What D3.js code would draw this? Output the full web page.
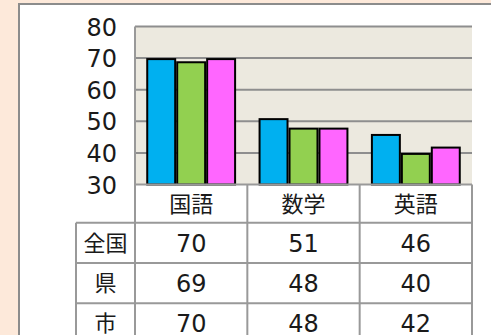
<!DOCTYPE html>
<html>
<head>
<meta charset="utf-8">
<script src="https://cdn.jsdelivr.net/npm/d3@7/dist/d3.min.js"></script>
<style>
  html, body { margin: 0; padding: 0; background: #fde9da; }
  svg { display: block; }
  .num { font-family: "DejaVu Sans", sans-serif; font-weight: 400; font-size: 24px; fill: #1a1a1a; }
  .jp { font-family: "Noto Sans CJK JP", sans-serif; font-weight: 400; font-size: 22px; fill: #1a1a1a; }
</style>
</head>
<body>
<script>
// Subjects and the three comparison groups
const subjects = ["国語", "数学", "英語"];
const groups = ["全国", "県", "市"];
const scoresNation = [70, 51, 46];
const scoresPref = [69, 48, 40];
const scoresCity = [70, 48, 42];
const yTicks = [30, 40, 50, 60, 70, 80];
const groupColors = ["#00b0f0", "#92d050", "#ff66ff"];

const series = [scoresNation, scoresPref, scoresCity];

const W = 491, H = 335;
const svg = d3.select("body").append("svg").attr("width", W).attr("height", H);

// White panel framing the chart
svg.append("rect").attr("x", 19).attr("y", 4).attr("width", W).attr("height", H)
  .attr("fill", "#fff").attr("stroke", "#8c8c8c").attr("stroke-width", 2);

const plotL = 135, plotR = 472, plotT = 26.5, plotB = 184.5;
const rowH = 40.2, headH = 38.3, labelColL = 76;

const y = d3.scaleLinear().domain([30, 80]).range([plotB, plotT]);
const xCol = d3.scaleBand().domain(subjects).range([plotL, plotR]).padding(0);
const x0 = d3.scaleBand().domain(subjects).range([plotL, plotR])
  .paddingInner(0.2).paddingOuter(0.1);
const x1 = d3.scaleBand().domain(groups).range([0, x0.bandwidth()]).padding(0);

// Plot background
svg.append("rect").attr("x", plotL).attr("y", plotT)
  .attr("width", plotR - plotL).attr("height", plotB - plotT).attr("fill", "#ece9df");

// Gridlines
const grid = svg.append("g");
grid.selectAll("line").data(yTicks.filter(t => t > 30)).join("line")
  .attr("x1", plotL).attr("x2", plotR)
  .attr("y1", d => y(d)).attr("y2", d => y(d))
  .attr("stroke", "#8e8e8e").attr("stroke-width", 2);

// Y axis labels
const yAxis = d3.axisLeft(y).tickValues(yTicks).tickSize(0).tickPadding(0);
const ya = svg.append("g").attr("transform", `translate(117,0)`).call(yAxis);
ya.select(".domain").remove();
ya.selectAll("text").attr("class", "num").attr("font-size", null).attr("font-family", null)
  .attr("fill", null).attr("dy", "0.36em");

// Bars
const bars = svg.append("g");
subjects.forEach((s, i) => {
  bars.selectAll(null).data(groups).join("rect")
    .attr("x", g => x0(s) + x1(g) + 1)
    .attr("y", (g, j) => y(series[j][i]) + 1)
    .attr("width", x1.bandwidth() - 2)
    .attr("height", (g, j) => plotB - y(series[j][i]) - 1)
    .attr("fill", (g, j) => groupColors[j])
    .attr("stroke", "#000").attr("stroke-width", 2);
});

// Data table under the plot
const tbl = svg.append("g");
const lineColor = "#999";
const tableBottom = plotB + headH + rowH * 3;
// vertical lines
[plotL, ...subjects.map(s => xCol(s) + xCol.bandwidth())].forEach(xv => {
  tbl.append("line").attr("x1", xv).attr("x2", xv)
    .attr("y1", xv === plotL ? plotT : plotB).attr("y2", tableBottom)
    .attr("stroke", lineColor).attr("stroke-width", 2);
});
tbl.append("line").attr("x1", labelColL).attr("x2", labelColL)
  .attr("y1", plotB + headH).attr("y2", tableBottom)
  .attr("stroke", lineColor).attr("stroke-width", 2);
// horizontal lines
tbl.append("line").attr("x1", plotL).attr("x2", plotR).attr("y1", plotB).attr("y2", plotB)
  .attr("stroke", lineColor).attr("stroke-width", 2);
[0, 1, 2, 3].forEach(r => {
  const yv = plotB + headH + rowH * r;
  tbl.append("line").attr("x1", labelColL).attr("x2", plotR).attr("y1", yv).attr("y2", yv)
    .attr("stroke", lineColor).attr("stroke-width", 2);
});

// Header row: subject names
tbl.selectAll(null).data(subjects).join("text")
  .attr("class", "jp").attr("text-anchor", "middle")
  .attr("x", d => xCol(d) + xCol.bandwidth() / 2)
  .attr("y", plotB + headH / 2).attr("dy", "0.36em")
  .text(d => d);

// Row labels and values
groups.forEach((g, j) => {
  const cy = plotB + headH + rowH * j + rowH / 2;
  tbl.append("text").attr("class", "jp").attr("text-anchor", "middle")
    .attr("x", (labelColL + plotL) / 2).attr("y", cy).attr("dy", "0.36em").text(g);
  tbl.selectAll(null).data(subjects).join("text")
    .attr("class", "num").attr("text-anchor", "middle")
    .attr("x", s => xCol(s) + xCol.bandwidth() / 2)
    .attr("y", cy).attr("dy", "0.36em")
    .text((s, i) => series[j][i]);
});
</script>
</body>
</html>
